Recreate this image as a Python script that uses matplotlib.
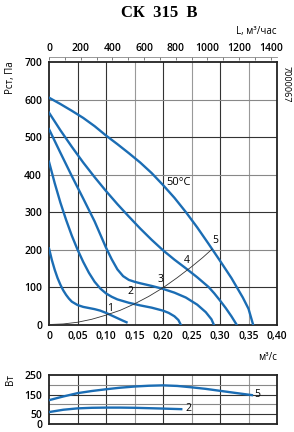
import numpy as np
import matplotlib.pyplot as plt
from matplotlib.ticker import MultipleLocator, FixedLocator

plt.rcParams['font.family'] = ['Open Sans', 'DejaVu Sans']

blue = '#1b6db4'

# кривые давления (q, м3/с -> Рст, Па)
q1 = [0, 0.005, 0.01, 0.015, 0.02, 0.025, 0.03, 0.035, 0.04, 0.05, 0.06, 0.07, 0.08, 0.09, 0.10, 0.11, 0.12, 0.13, 0.136]
p1 = [203, 172, 146, 124, 106, 91, 79, 69, 61, 52, 47, 44, 41, 37, 31, 24, 17, 10, 6]

q2 = [0, 0.01, 0.02, 0.03, 0.04, 0.05, 0.06, 0.07, 0.08, 0.09, 0.10, 0.11, 0.12, 0.14, 0.16, 0.18, 0.20, 0.21, 0.22, 0.227, 0.231]
p2 = [434, 377, 325, 279, 237, 200, 167, 138, 114, 96, 83, 74, 67, 58, 51, 45, 37, 31, 22, 12, 0]

q3 = [0, 0.02, 0.04, 0.06, 0.08, 0.09, 0.10, 0.11, 0.12, 0.13, 0.14, 0.15, 0.16, 0.18, 0.20, 0.22, 0.24, 0.26, 0.275, 0.285, 0.289]
p3 = [521, 458, 396, 336, 275, 240, 205, 174, 147, 129, 119, 114, 110, 103, 95, 85, 72, 53, 33, 14, 0]

q4 = [0, 0.02, 0.04, 0.06, 0.08, 0.10, 0.12, 0.14, 0.16, 0.18, 0.20, 0.22, 0.24, 0.26, 0.28, 0.29, 0.30, 0.31, 0.32, 0.329]
p4 = [565, 518, 474, 432, 393, 356, 321, 288, 256, 226, 198, 173, 150, 126, 100, 83, 64, 44, 22, 0]

q5 = [0, 0.02, 0.04, 0.06, 0.08, 0.10, 0.12, 0.14, 0.16, 0.18, 0.20, 0.22, 0.24, 0.26, 0.28, 0.30, 0.32, 0.34, 0.35, 0.358]
p5 = [605, 588, 570, 551, 529, 504, 481, 457, 432, 404, 372, 338, 300, 259, 215, 170, 124, 72, 42, 0]

# характеристика сети
qs = [0, 0.025, 0.05, 0.075, 0.10, 0.125, 0.15, 0.175, 0.20, 0.225, 0.25, 0.27, 0.286]
ps = [0, 1.5, 6, 14, 25, 38, 55, 75, 98, 125, 154, 179, 201]

# мощность, Вт
qw5 = [0, 0.025, 0.05, 0.075, 0.10, 0.125, 0.15, 0.175, 0.20, 0.225, 0.25, 0.275, 0.30, 0.325, 0.356]
w5 = [121, 140, 157, 168, 177, 185, 191, 195, 197, 194, 187, 179, 169, 159, 147]
qw2 = [0, 0.025, 0.05, 0.075, 0.10, 0.125, 0.15, 0.175, 0.20, 0.232]
w2 = [60, 72, 79, 82, 83, 83, 82, 80, 78, 75]

xticks = [0, 0.05, 0.10, 0.15, 0.20, 0.25, 0.30, 0.35, 0.40]
xlabels = ['0', '0,05', '0,10', '0,15', '0,20', '0,25', '0,30', '0,35', '0,40']

fig = plt.figure(figsize=(2.94, 4.32), dpi=100)
ax = fig.add_axes([0.1667, 0.2488, 0.7755, 0.6076])
ax2 = fig.add_axes([0.1667, 0.019, 0.7755, 0.1129])

def grid(a, ylines):
    for x in xticks[1:-1]:
        c = '#999999' if x in (0.15, 0.25, 0.35) else '#333333'
        a.axvline(x, color=c, lw=0.8, zorder=1)
    for i, y in enumerate(ylines):
        c = '#333333' if i % 2 == 0 else '#888888'
        a.axhline(y, color=c, lw=0.8, zorder=1)
    for s in a.spines.values():
        s.set_linewidth(1.3)
        s.set_color('#222222')

ax.set_xlim(0, 0.40)
ax.set_ylim(0, 700)
grid(ax, [100, 200, 300, 400, 500, 600])
for q, p in [(q1, p1), (q2, p2), (q3, p3), (q4, p4), (q5, p5)]:
    ax.plot(q, p, color=blue, lw=1.7, zorder=3, solid_joinstyle='round')
ax.plot(qs, ps, color='#333333', lw=0.6, zorder=4)

ax.set_xticks(xticks)
ax.set_xticklabels(xlabels)
ax.set_yticks(range(0, 701, 100))
ax.tick_params(length=0, labelsize=7.5, pad=5)
for t in ax.get_xticklabels() + ax.get_yticklabels():
    t.set_fontweight('semibold')

for txt, x, y in [('1', 0.107, 44), ('2', 0.142, 87), ('3', 0.195, 119), ('4', 0.242, 172), ('5', 0.291, 225)]:
    ax.text(x, y, txt, fontsize=7.5, ha='center', va='center', zorder=5)
ax.text(0.206, 378, '50°C', fontsize=8, ha='left', va='center')

# верхняя шкала L, м3/час
sec = ax.secondary_xaxis(1.019, functions=(lambda q: q * 3600, lambda L: L / 3600))
sec.xaxis.set_major_locator(FixedLocator(range(0, 1401, 200)))
sec.xaxis.set_minor_locator(MultipleLocator(100))
sec.tick_params(which='both', direction='in', length=2.5, width=0.6, color='#666666', labelsize=7.5, pad=2)
sec.spines['top'].set_color('#888888')
sec.spines['top'].set_linewidth(0.6)
for t in sec.get_xticklabels():
    t.set_fontweight('semibold')

ax2.set_xlim(0, 0.40)
ax2.set_ylim(0, 250)
grid(ax2, [50, 100, 150, 200])
ax2.plot(qw5, w5, color=blue, lw=1.7, zorder=3)
ax2.plot(qw2, w2, color=blue, lw=1.7, zorder=3)
ax2.set_xticks([])
ax2.set_yticks([0, 50, 150, 250])
ax2.tick_params(length=0, labelsize=7.5, pad=5)
for t in ax2.get_yticklabels():
    t.set_fontweight('semibold')
ax2.text(0.36, 149, '5', fontsize=7.5, ha='left', va='center')
ax2.text(0.24, 76, '2', fontsize=7.5, ha='left', va='center')

fig.text(0.54, 0.971, 'СК  315  В', family='Liberation Serif', fontweight='bold',
         fontsize=12, ha='center', va='center')
fig.text(0.942, 0.926, 'L, м³/час', fontsize=7, ha='right', va='center')
fig.text(0.942, 0.173, 'м³/с', fontsize=7, ha='right', va='center')
fig.text(0.035, 0.82, 'Рст, Па', fontsize=7, rotation=90, ha='center', va='center')
fig.text(0.035, 0.122, 'Вт', fontsize=7, rotation=90, ha='center', va='center')
fig.text(0.972, 0.805, '7000067', fontsize=6.5, rotation=270, ha='center', va='center')

fig.savefig('out.png', dpi=100)
